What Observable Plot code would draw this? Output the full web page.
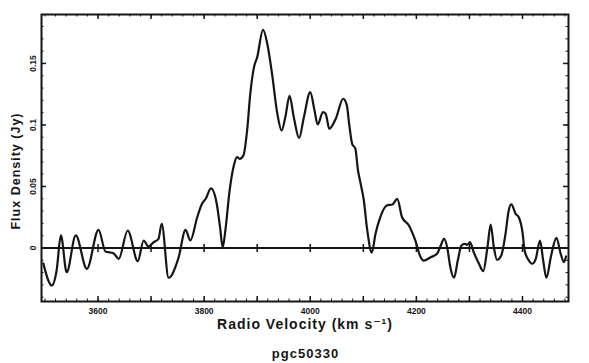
<!DOCTYPE html>
<html>
<head>
<meta charset="utf-8">
<script src="https://cdn.jsdelivr.net/npm/d3@7"></script>
<script src="https://cdn.jsdelivr.net/npm/@observablehq/plot@0.6"></script>
<style>
  html, body { margin: 0; padding: 0; background: #fff; }
  #title { width: 589px; box-sizing: border-box; padding-left: 22px; text-align: center;
           font: bold 13px "Liberation Sans", "DejaVu Sans", sans-serif; letter-spacing: 1px; color: #151515;
           line-height: 28px; height: 23px; }
</style>
</head>
<body>
<div id="chart"></div>
<div id="title">pgc50330</div>
<script>
// Velocity (km/s) and flux density (Jy)
const velocity = [3497, 3513, 3522, 3530, 3541, 3558, 3579, 3601, 3614, 3629, 3639, 3656, 3675, 3686,
  3695, 3705, 3714, 3720, 3733, 3752, 3765, 3774, 3787, 3796, 3803, 3813, 3824, 3830, 3835, 3840,
  3848, 3856, 3862, 3867, 3874, 3881, 3887, 3894, 3900, 3911, 3919, 3928, 3938, 3946, 3953, 3961,
  3969, 3979, 3988, 4000, 4008, 4014, 4024, 4029, 4036, 4048, 4062, 4069, 4073, 4079, 4085, 4090,
  4095, 4101, 4107, 4116, 4123, 4132, 4144, 4155, 4164, 4173, 4186, 4198, 4208, 4214, 4227, 4239,
  4246, 4252, 4258, 4264, 4271, 4278, 4285, 4291, 4296, 4301, 4308, 4318, 4326, 4334, 4340, 4346,
  4352, 4360, 4368, 4374, 4379, 4387, 4393, 4400, 4404, 4412, 4418, 4425, 4433, 4439, 4445, 4454,
  4464, 4472, 4478, 4482];
const flux = [-0.0126, -0.0305, -0.0183, 0.0102, -0.0197, 0.0102, -0.0169, 0.0148, -0.0028, -0.0042,
  -0.0088, 0.0142, -0.0107, 0.0061, 0.0012, 0.0047, 0.0075, 0.0197, -0.0242, -0.0075, 0.0148, 0.0061,
  0.0250, 0.0359, 0.0400, 0.0484, 0.0354, 0.0169, 0.0004, 0.0142, 0.0467, 0.0671, 0.0738, 0.0725,
  0.0752, 0.0955, 0.1254, 0.1470, 0.1551, 0.1774, 0.1660, 0.1416, 0.1091, 0.0955, 0.1063, 0.1236,
  0.1063, 0.0894, 0.1063, 0.1267, 0.1118, 0.1004, 0.1104, 0.1091, 0.0969, 0.1050, 0.1213, 0.1159,
  0.1020, 0.0847, 0.0807, 0.0630, 0.0522, 0.0386, 0.0159, -0.0037, 0.0115, 0.0250, 0.0346, 0.0354,
  0.0400, 0.0250, 0.0183, 0.0061, -0.0075, -0.0102, -0.0075, -0.0047, 0.0020, 0.0075, 0.0007, -0.0156,
  -0.0242, -0.0102, 0.0020, 0.0034, 0.0026, 0.0047, -0.0034, -0.0128, -0.0189, 0.0007, 0.0191, 0.0007,
  -0.0096, -0.0061, 0.0115, 0.0305, 0.0354, 0.0278, 0.0250, 0.0128, -0.0020, -0.0102, -0.0128, -0.0088,
  0.0061, -0.0102, -0.0242, -0.0061, 0.0083, -0.0047, -0.0115, -0.0069];

const xTickValues = [3600, 3800, 4000, 4200, 4400];
const xTickLabels = ["3600", "3800", "4000", "4200", "4400"];
const yTickValues = [0, 0.05, 0.1, 0.15];
const yTickLabels = ["0", "0.05", "0.1", "0.15"];
const xMajor = [3600, 3700, 3800, 3900, 4000, 4100, 4200, 4300, 4400];
const xMinor = d3.range(3500, 4490, 20);
const yMajor = [0, 0.05, 0.1, 0.15];
const yMinor = d3.range(-0.04, 0.19, 0.01);
const xTitle = "Radio Velocity (km s\u207B\u00B9)";
const yTitle = "Flux Density (Jy)";

const data = velocity.map((v, i) => ({v, f: flux[i]}));
const ink = "#151515";

const W = 589, H = 340, mL = 41, mR = 21, mT = 14, mB = 39;
const fw = W - mL - mR, fh = H - mT - mB;

// vertical bar symbol for the ticks crossing the zero line
const vbar = {draw(ctx, size) { const r = Math.sqrt(size / Math.PI); ctx.moveTo(0, -r); ctx.lineTo(0, r); }};

const chart = Plot.plot({
  width: W, height: H,
  marginLeft: mL, marginRight: mR, marginTop: mT, marginBottom: mB,
  style: {fontFamily: "'Liberation Sans', 'DejaVu Sans', sans-serif", fontWeight: "bold", color: ink, background: "#fff"},
  x: {domain: [3493.5, 4486.7]},
  y: {domain: [-0.0435, 0.1898]},
  marks: [
    // inward ticks on all four sides
    Plot.ruleX(xMinor, {x: d => d, insetTop: fh - 2.5, stroke: ink}),
    Plot.ruleX(xMinor, {x: d => d, insetBottom: fh - 2.5, stroke: ink}),
    Plot.ruleX(xMajor, {x: d => d, insetTop: fh - 5, stroke: ink, strokeWidth: 1.5}),
    Plot.ruleX(xMajor, {x: d => d, insetBottom: fh - 5, stroke: ink, strokeWidth: 1.5}),
    Plot.ruleY(yMinor, {y: d => d, insetRight: fw - 2.5, stroke: ink}),
    Plot.ruleY(yMinor, {y: d => d, insetLeft: fw - 2.5, stroke: ink}),
    Plot.ruleY(yMajor, {y: d => d, insetRight: fw - 5, stroke: ink, strokeWidth: 1.5}),
    Plot.ruleY(yMajor, {y: d => d, insetLeft: fw - 5, stroke: ink, strokeWidth: 1.5}),
    // tick labels
    Plot.axisX({anchor: "bottom", ticks: xTickValues, tickSize: 0, tickPadding: 6,
      tickFormat: d => xTickLabels[xTickValues.indexOf(d)], label: null, fontSize: 8.5, fill: ink}),
    Plot.axisY({anchor: "left", ticks: yTickValues, tickSize: 0, tickPadding: 6, tickRotate: -90,
      tickFormat: d => yTickLabels[yTickValues.indexOf(d)], label: null, fontSize: 8.5, fill: ink}),
    // axis titles
    Plot.text([xTitle], {text: d => d, frameAnchor: "bottom", dx: 0, dy: 27, fontSize: 14, fill: ink}),
    Plot.text([yTitle], {text: d => d, frameAnchor: "left", textAnchor: "middle", rotate: -90, dx: -26, dy: 13, fontSize: 12.5, fill: ink}),
    // zero line with crossing ticks
    Plot.ruleY([0], {stroke: ink, strokeWidth: 2}),
    Plot.dot(xMajor, {x: d => d, y: () => 0, symbol: vbar, r: 4, stroke: ink, fill: "none", strokeWidth: 1.5}),
    Plot.frame({stroke: ink, strokeWidth: 2}),
    Plot.line(data, {x: "v", y: "f", curve: "monotone-x", stroke: ink, strokeWidth: 2.2})
  ]
});
chart.querySelectorAll("g[aria-label='text'] text").forEach(t => { t.style.letterSpacing = "1px"; });
document.getElementById("chart").appendChild(chart);
</script>
</body>
</html>
